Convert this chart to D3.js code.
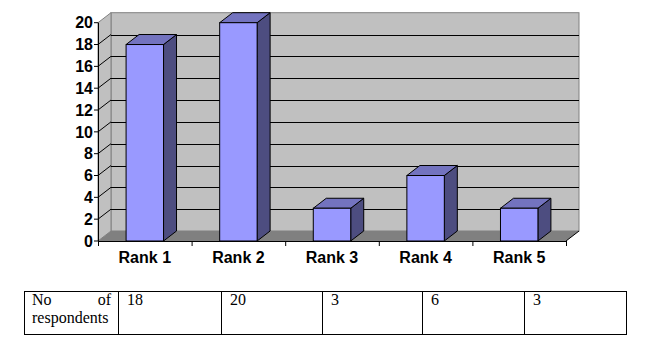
<!DOCTYPE html>
<html>
<head>
<meta charset="utf-8">
<script src="https://cdn.jsdelivr.net/npm/d3@7"></script>
<style>
  body { margin: 0; background: #fff; }
  svg { display: block; }
  .sans { font-family: "Liberation Sans", Arial, sans-serif; font-weight: bold; font-size: 16px; }
  .serif { font-family: "Liberation Serif", "Times New Roman", serif; font-size: 16px; }
</style>
</head>
<body>
<div id="chart"></div>
<script>
// data
var ranks = ["Rank 1", "Rank 2", "Rank 3", "Rank 4", "Rank 5"];
var respondents = [18, 20, 3, 6, 3];
var yTicks = [0, 2, 4, 6, 8, 10, 12, 14, 16, 18, 20];
var rowLabel = ["No", "of", "respondents"];

var W = 648, H = 353;
var dx = 13, dy = -10; // 3d depth offset

var svg = d3.select("#chart").append("svg")
    .attr("width", W)
    .attr("height", H);

// scales
var x = d3.scaleBand().domain(ranks).range([98, 566]).padding(0);
var y = d3.scaleLinear().domain([0, 20]).range([241, 22.7]);
var barW = x.bandwidth() * 0.4;

var x0 = x.range()[0], x1 = x.range()[1];
var yTop = y(20), yBot = y(0);

function pts(a) { return a.map(function(p) { return p.join(","); }).join(" "); }

// back wall
svg.append("rect")
    .attr("x", x0 + dx).attr("y", yTop + dy)
    .attr("width", x1 - x0).attr("height", yBot - yTop)
    .attr("fill", "#c0c0c0").attr("stroke", "#808080");

// left side wall
svg.append("polygon")
    .attr("points", pts([[x0, yBot], [x0 + dx, yBot + dy], [x0 + dx, yTop + dy], [x0, yTop]]))
    .attr("fill", "#c0c0c0").attr("stroke", "#808080");

// floor
svg.append("polygon")
    .attr("points", pts([[x0, yBot], [x1, yBot], [x1 + dx, yBot + dy], [x0 + dx, yBot + dy]]))
    .attr("fill", "#808080");
svg.append("line")
    .attr("x1", x1).attr("y1", yBot).attr("x2", x1 + dx).attr("y2", yBot + dy)
    .attr("stroke", "#000");

// gridlines
var grid = yTicks.filter(function(t) { return t > 0 && t < 20; });
svg.selectAll(".grid").data(grid).enter().append("line")
    .attr("class", "grid")
    .attr("x1", x0 + dx).attr("x2", x1 + dx)
    .attr("y1", function(d) { return Math.round(y(d) + dy) + 0.5; })
    .attr("y2", function(d) { return Math.round(y(d) + dy) + 0.5; })
    .attr("stroke", "#000");
svg.selectAll(".sgrid").data(grid).enter().append("line")
    .attr("class", "sgrid")
    .attr("x1", x0).attr("x2", x0 + dx)
    .attr("y1", function(d) { return y(d); })
    .attr("y2", function(d) { return y(d) + dy; })
    .attr("stroke", "#000");

// bars
var bars = svg.selectAll(".bar").data(ranks).enter().append("g").attr("class", "bar");
bars.each(function(r, i) {
    var g = d3.select(this);
    var bx = x(r) + (x.bandwidth() - barW) / 2;
    var by = y(respondents[i]);
    // side
    g.append("polygon")
        .attr("points", pts([[bx + barW, yBot], [bx + barW + dx, yBot + dy], [bx + barW + dx, by + dy], [bx + barW, by]]))
        .attr("fill", "#4d4d80").attr("stroke", "#000");
    // top
    g.append("polygon")
        .attr("points", pts([[bx, by], [bx + dx, by + dy], [bx + barW + dx, by + dy], [bx + barW, by]]))
        .attr("fill", "#7373bf").attr("stroke", "#000");
    // front
    g.append("rect")
        .attr("x", bx).attr("y", by)
        .attr("width", barW).attr("height", yBot - by)
        .attr("fill", "#9999ff").attr("stroke", "#000");
});

// axes
svg.append("line")
    .attr("x1", x0 + 0.5).attr("x2", x0 + 0.5).attr("y1", yTop).attr("y2", yBot)
    .attr("stroke", "#000");
svg.append("line")
    .attr("x1", x0).attr("x2", x1).attr("y1", yBot + 0.5).attr("y2", yBot + 0.5)
    .attr("stroke", "#000");
svg.selectAll(".ytick").data(yTicks).enter().append("line")
    .attr("x1", x0 - 4).attr("x2", x0)
    .attr("y1", function(d) { return y(d); })
    .attr("y2", function(d) { return y(d); })
    .attr("stroke", "#000");
var bounds = ranks.map(function(r) { return x(r); }).concat([x1]);
svg.selectAll(".xtick").data(bounds).enter().append("line")
    .attr("x1", function(d) { return d + 0.5; }).attr("x2", function(d) { return d + 0.5; })
    .attr("y1", yBot).attr("y2", yBot + 5)
    .attr("stroke", "#000");

svg.selectAll(".ylab").data(yTicks).enter().append("text")
    .attr("class", "sans")
    .attr("x", x0 - 5)
    .attr("y", function(d) { return y(d); })
    .attr("dy", "0.36em")
    .attr("text-anchor", "end")
    .text(function(d) { return d; });

svg.selectAll(".xlab").data(ranks).enter().append("text")
    .attr("class", "sans")
    .attr("x", function(d) { return x(d) + x.bandwidth() / 2; })
    .attr("y", 263)
    .attr("text-anchor", "middle")
    .text(function(d) { return d; });

// table under the chart
var cols = [24, 118, 221, 322, 422, 524, 626];
var tTop = 291, tBot = 334;
var table = svg.append("g").attr("class", "table");
table.append("rect")
    .attr("x", cols[0] + 0.5).attr("y", tTop + 0.5)
    .attr("width", cols[cols.length - 1] - cols[0]).attr("height", tBot - tTop)
    .attr("fill", "none").attr("stroke", "#000");
table.selectAll(".col").data(cols.slice(1, -1)).enter().append("line")
    .attr("x1", function(d) { return d + 0.5; }).attr("x2", function(d) { return d + 0.5; })
    .attr("y1", tTop).attr("y2", tBot)
    .attr("stroke", "#000");

table.append("text").attr("class", "serif").attr("x", 32).attr("y", 305).text(rowLabel[0]);
table.append("text").attr("class", "serif").attr("x", 111).attr("y", 305)
    .attr("text-anchor", "end").text(rowLabel[1]);
table.append("text").attr("class", "serif").attr("x", 32).attr("y", 323).text(rowLabel[2]);
table.selectAll(".val").data(respondents).enter().append("text")
    .attr("class", "serif")
    .attr("x", function(d, i) { return cols[i + 1] + 9; })
    .attr("y", 305)
    .text(function(d) { return d; });
</script>
</body>
</html>
